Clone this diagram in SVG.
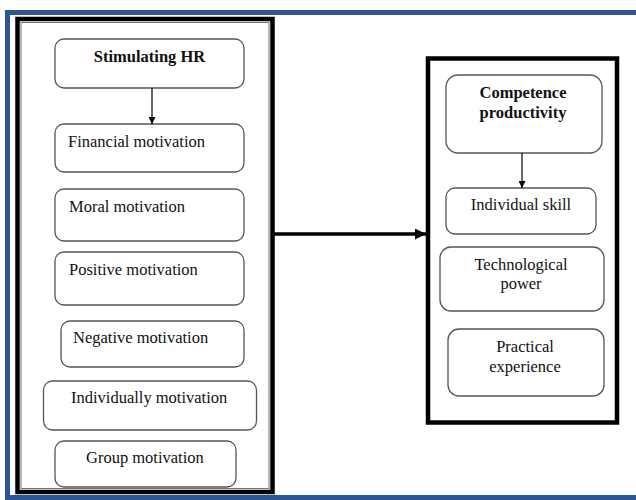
<svg xmlns="http://www.w3.org/2000/svg" width="636" height="500" viewBox="0 0 636 500">
<style>
.frame{fill:none;stroke:#2f5597;stroke-width:5}
.group{fill:#fff;stroke:#000;stroke-width:4.5}
.inner{fill:none;stroke:#777;stroke-width:1}
.node{fill:#fff;stroke:#555;stroke-width:1.3}
.t{font-family:"Liberation Serif","Times New Roman","DejaVu Serif",serif;font-size:16.5px;fill:#111}
.b{font-weight:bold}
.c{text-anchor:middle}
.thin{stroke:#000;stroke-width:1.2;fill:none}
.thick{stroke:#000;stroke-width:3.5;fill:none}
</style>
<defs>
<marker id="ah" viewBox="0 0 10 10" refX="10" refY="5" markerWidth="7" markerHeight="7" markerUnits="userSpaceOnUse" orient="auto"><path d="M0,0L10,5L0,10z" fill="#000"/></marker>
<marker id="ahb" viewBox="0 0 10 10" refX="10" refY="5" markerWidth="11" markerHeight="11" markerUnits="userSpaceOnUse" orient="auto"><path d="M0,0L10,5L0,10z" fill="#000"/></marker>
</defs>
<rect width="636" height="500" fill="#fff"/>
<rect class="frame" x="7.5" y="12.5" width="640" height="485"/>
<g id="left-group">
<rect class="group" x="17.5" y="19" width="255" height="473"/>
<rect class="inner" x="21" y="22.5" width="248" height="466"/>
</g>
<g id="right-group">
<rect class="group" x="428" y="58.5" width="189" height="364"/>
</g>
<g id="n-stim"><rect class="node" x="55" y="39" width="189" height="49" rx="9"/><text class="t b c" x="149.5" y="62">Stimulating HR</text></g>
<g id="n-fin"><rect class="node" x="55" y="124" width="189" height="48" rx="9"/><text class="t" x="68" y="147">Financial motivation</text></g>
<g id="n-moral"><rect class="node" x="55" y="189" width="189" height="52" rx="9"/><text class="t" x="69" y="212">Moral motivation</text></g>
<g id="n-pos"><rect class="node" x="55" y="252" width="189" height="53" rx="9"/><text class="t" x="69" y="275">Positive motivation</text></g>
<g id="n-neg"><rect class="node" x="61" y="321" width="183" height="46" rx="9"/><text class="t" x="73" y="343">Negative motivation</text></g>
<g id="n-ind"><rect class="node" x="43.5" y="381" width="213" height="49" rx="9"/><text class="t" x="71" y="403">Individually motivation</text></g>
<g id="n-group"><rect class="node" x="55" y="441" width="181" height="46" rx="9"/><text class="t" x="86" y="463">Group motivation</text></g>
<g id="n-comp"><rect class="node" x="446" y="75" width="156" height="78" rx="12"/><text class="t b c" x="523" y="98">Competence</text><text class="t b c" x="523" y="118">productivity</text></g>
<g id="n-skill"><rect class="node" x="446" y="188" width="150" height="46" rx="9"/><text class="t c" x="521" y="210">Individual skill</text></g>
<g id="n-tech"><rect class="node" x="440" y="247" width="164" height="64" rx="11"/><text class="t c" x="521" y="270">Technological</text><text class="t c" x="521" y="289">power</text></g>
<g id="n-prac"><rect class="node" x="448" y="329" width="156" height="67" rx="11"/><text class="t c" x="525" y="352">Practical</text><text class="t c" x="525" y="372">experience</text></g>
<g id="connectors">
<line class="thin" x1="152" y1="88" x2="152" y2="124" marker-end="url(#ah)"/>
<line class="thin" x1="522" y1="153" x2="522" y2="188" marker-end="url(#ah)"/>
<line class="thick" x1="274" y1="234" x2="426" y2="234" marker-end="url(#ahb)"/>
</g>
</svg>
